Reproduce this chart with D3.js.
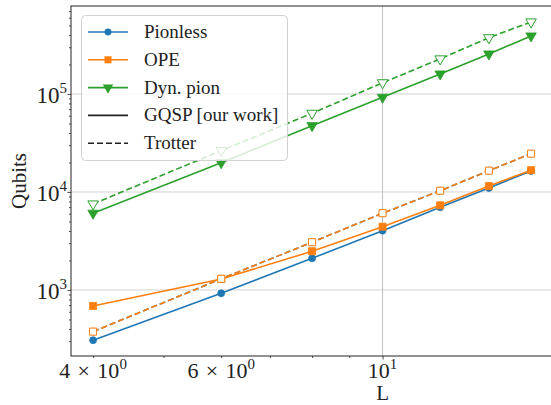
<!DOCTYPE html>
<html>
<head>
<meta charset="utf-8">
<script src="https://cdn.jsdelivr.net/npm/d3@7"></script>
<style>
  body { margin: 0; background: #fff; }
</style>
</head>
<body>
<div id="chart"></div>
<script>
// data
const L = [4, 6, 8, 10, 12, 14, 16];
const pionlessGQSP = [307, 925, 2105, 4030, 6980, 11000, 16400];
const pionlessTrotter = [376, 1300, 3070, 6070, 10300, 16500, 24600];
const opeGQSP = [687, 1295, 2484, 4425, 7310, 11500, 16700];
const opeTrotter = [376, 1300, 3070, 6070, 10300, 16500, 24600];
const dynGQSP = [6070, 19900, 47500, 92500, 160000, 256000, 391000];
const dynTrotter = [7550, 26400, 63500, 130000, 228000, 375000, 543000];

const xMajor = [10];
const xMinor = [4, 5, 6, 7, 8, 9, 20];
const xLabels = [
  {v: 4, base: "4\u2004\u00d7\u200410", exp: "0"},
  {v: 6, base: "6\u2004\u00d7\u200410", exp: "0"},
  {v: 10, base: "10", exp: "1"}
];
const yMajor = [1e3, 1e4, 1e5];
const yExp = ["3", "4", "5"];

const legendItems = [
  {name: "Pionless", color: "#1f77b4", marker: "circle", dash: null},
  {name: "OPE", color: "#ff7f0e", marker: "square", dash: null},
  {name: "Dyn. pion", color: "#2ca02c", marker: "tri", dash: null},
  {name: "GQSP [our work]", color: "#222", marker: null, dash: null},
  {name: "Trotter", color: "#222", marker: null, dash: "6,3"}
];

const width = 551, height = 405;
const mLeft = 71, mRight = 553, mTop = 6, mBottom = 356;
const serif = "'Liberation Serif', 'Times New Roman', 'DejaVu Serif', serif";

const svg = d3.select("#chart").append("svg")
  .attr("width", width).attr("height", height)
  .attr("font-family", serif);

const x = d3.scaleLog().domain([3.73, 17.15]).range([mLeft, mRight]);
const y = d3.scaleLog().domain([212, 7.9e5]).range([mBottom, mTop]);

// grid
const grid = svg.append("g");
grid.selectAll("line.h").data(yMajor).enter().append("line")
  .attr("x1", mLeft).attr("x2", mRight)
  .attr("y1", d => y(d)).attr("y2", d => y(d))
  .attr("stroke", "#b0b0b0").attr("stroke-width", 0.8).attr("opacity", 0.7);
grid.selectAll("line.v").data(xMajor).enter().append("line")
  .attr("x1", d => x(d)).attr("x2", d => x(d))
  .attr("y1", mTop).attr("y2", mBottom)
  .attr("stroke", "#b0b0b0").attr("stroke-width", 0.8);

// axes ticks
const yMinor = [];
for (let k = 2; k <= 5; k++) for (let m = 2; m <= 9; m++) {
  const v = m * Math.pow(10, k);
  if (v > 212 && v < 7.9e5) yMinor.push(v);
}

function tickAxis(axis, cls){
  const g = svg.append("g").attr("class", cls).call(axis);
  g.select(".domain").remove();
  g.selectAll("line").attr("stroke", "#222").attr("stroke-width", 0.8);
  g.selectAll("text").remove();
  return g;
}
tickAxis(d3.axisBottom(x).tickValues(xMajor).tickSize(3.5), "xmaj").attr("transform", `translate(0,${mBottom})`);
tickAxis(d3.axisBottom(x).tickValues(xMinor).tickSize(2), "xmin").attr("transform", `translate(0,${mBottom})`);
tickAxis(d3.axisLeft(y).tickValues(yMajor).tickSize(3.5), "ymaj").attr("transform", `translate(${mLeft},0)`);
tickAxis(d3.axisLeft(y).tickValues(yMinor).tickSize(2), "ymin").attr("transform", `translate(${mLeft},0)`);

// tick labels
const xl = svg.append("g").selectAll("text").data(xLabels).enter().append("text")
  .attr("x", d => x(d.v)).attr("y", 378)
  .attr("text-anchor", "middle").attr("font-size", 22).attr("fill", "#222");
xl.append("tspan").text(d => d.base);
xl.append("tspan").attr("dy", -9).attr("font-size", 15).text(d => d.exp);

const yl = svg.append("g").selectAll("text").data(yMajor).enter().append("text")
  .attr("x", mLeft - 4).attr("y", d => y(d) + 9)
  .attr("text-anchor", "end").attr("font-size", 23).attr("fill", "#222");
yl.append("tspan").text("10");
yl.append("tspan").attr("dy", -10).attr("font-size", 15).text((d, i) => yExp[i]);

svg.append("text").attr("x", x(10)).attr("y", 400).attr("fill", "#222")
  .attr("text-anchor", "middle").attr("font-size", 21).text("L");
svg.append("text").attr("fill", "#222")
  .attr("transform", `translate(26,${(mTop + mBottom) / 2}) rotate(-90)`)
  .attr("text-anchor", "middle").attr("font-size", 21).text("Qubits");

// series
const series = [
  {vals: pionlessGQSP, color: "#1f77b4", marker: "circle", dash: null, hollow: false},
  {vals: pionlessTrotter, color: "#1f77b4", marker: "circle", dash: "6,3", hollow: true},
  {vals: opeGQSP, color: "#ff7f0e", marker: "square", dash: null, hollow: false},
  {vals: opeTrotter, color: "#ff7f0e", marker: "square", dash: "6,3", hollow: true},
  {vals: dynGQSP, color: "#2ca02c", marker: "tri", dash: null, hollow: false},
  {vals: dynTrotter, color: "#2ca02c", marker: "tri", dash: "6,3", hollow: true}
];

const symbols = {
  circle: d3.symbol().type(d3.symbolCircle).size(38),
  square: d3.symbol().type(d3.symbolSquare).size(50),
  tri: d3.symbol().type(d3.symbolTriangle).size(48)
};

const line = d3.line().x((d, i) => x(L[i])).y(d => y(d));
const plot = svg.append("g");
for (const s of series) {
  plot.append("path").datum(s.vals).attr("d", line)
    .attr("fill", "none").attr("stroke", s.color).attr("stroke-width", 1.6)
    .attr("stroke-dasharray", s.dash);
  plot.selectAll(null).data(s.vals).enter().append("path")
    .attr("d", symbols[s.marker])
    .attr("transform", (d, i) => `translate(${x(L[i])},${y(d)})` + (s.marker === "tri" ? " rotate(180)" : ""))
    .attr("fill", s.hollow ? "#fff" : s.color)
    .attr("stroke", s.color).attr("stroke-width", s.hollow ? 1 : 0.8);
}

// spines
svg.append("rect").attr("x", mLeft).attr("y", mTop)
  .attr("width", mRight - mLeft).attr("height", mBottom - mTop)
  .attr("fill", "none").attr("stroke", "#222").attr("stroke-width", 1);

// legend
const lg = svg.append("g");
lg.append("rect").attr("x", 81.5).attr("y", 15.5).attr("width", 206).attr("height", 145)
  .attr("rx", 4).attr("fill", "#fff").attr("fill-opacity", 0.8)
  .attr("stroke", "#d0d0d0").attr("stroke-width", 1);
const rows = lg.selectAll("g").data(legendItems).enter().append("g")
  .attr("transform", (d, i) => `translate(0,${32 + i * 27.8})`);
rows.append("line").attr("x1", 88).attr("x2", 128)
  .attr("stroke", d => d.color).attr("stroke-width", 1.6)
  .attr("stroke-dasharray", d => d.dash);
rows.filter(d => d.marker).append("path")
  .attr("d", d => symbols[d.marker]())
  .attr("transform", d => "translate(108,0)" + (d.marker === "tri" ? " rotate(180)" : ""))
  .attr("fill", d => d.color);
rows.append("text").attr("x", 144).attr("y", 6).attr("font-size", 19).attr("fill", "#222")
  .text(d => d.name);
</script>
</body>
</html>
